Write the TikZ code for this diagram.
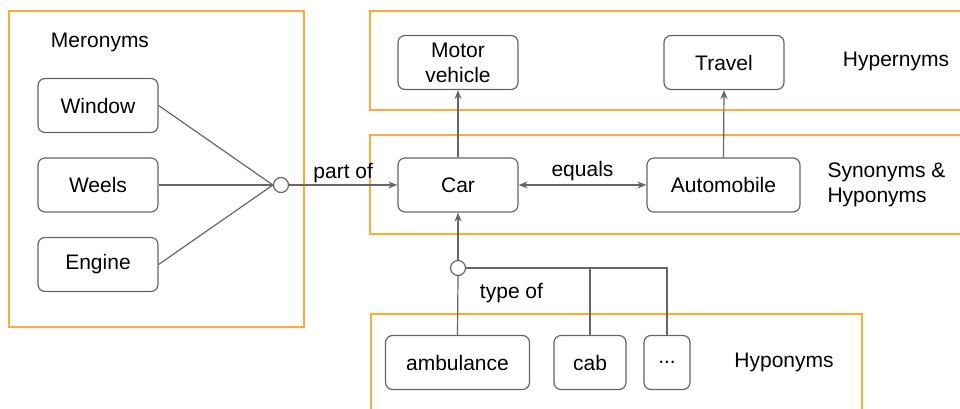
\documentclass[tikz,border=0pt]{standalone}
\usepackage{fontspec}
\setmainfont{Liberation Sans}
\usetikzlibrary{arrows.meta}
\definecolor{framecol}{RGB}{255,170,50}
\definecolor{linecol}{RGB}{102,102,102}
\begin{document}
\begin{tikzpicture}[x=1pt,y=-1pt,
  every node/.style={font=\fontsize{21}{25}\selectfont},
  term/.style={draw=linecol, line width=1.2pt, rounded corners=7pt, minimum height=54pt, inner sep=0pt, align=center},
  group/.style={draw=framecol, line width=1.4pt},
  junction/.style={circle, draw=linecol, fill=white, line width=1.2pt, minimum size=15pt, inner sep=0pt},
  link/.style={draw=linecol, line width=1.2pt},
  tip/.style={-{Stealth[length=9pt,width=7pt]}}]
\useasboundingbox (0,0) rectangle (960,409);
\path[clip] (0,0) rectangle (960,409);
% groups
\draw[group] (9,11) rectangle (304,327);
\draw[group] (370,11) rectangle (975,110);
\draw[group] (370,135) rectangle (975,234);
\draw[group] (371,314) rectangle (862,420);
\node (meronyms) at (100,42) {Meronyms};
\node (hypernyms) at (896,61) {Hypernyms};
\node[anchor=west, align=left] (synonyms) at (824,185) {Synonyms \&\\Hyponyms};
\node (hyponyms) at (784,362) {Hyponyms};
% terms
\node[term, minimum width=120pt] (window) at (98,105.5) {Window};
\node[term, minimum width=120pt] (weels) at (98,185) {Weels};
\node[term, minimum width=120pt] (engine) at (98,264.5) {Engine};
\node[term, minimum width=120pt] (motor) at (458,62.5) {Motor\\vehicle};
\node[term, minimum width=120pt] (travel) at (724,62.5) {Travel};
\node[term, minimum width=120pt] (car) at (458,185) {Car};
\node[term, minimum width=153pt] (auto) at (723.5,185) {Automobile};
\node[term, minimum width=144pt] (ambulance) at (457.5,362.5) {ambulance};
\node[term, minimum width=72pt] (cab) at (590,362.5) {cab};
\node[term, minimum width=46pt] (more) at (667,362.5) {...};
% junctions
\node[junction] (partj) at (281,185) {};
\node[junction] (typej) at (458,268) {};
\node (typeof) at (511.5,293) {type of};
% links
\draw[link] (window.east) -- (partj.west);
\draw[link] (weels.east) -- (partj.west);
\draw[link] (engine.east) -- (partj.west);
\draw[link, tip] (partj.east) -- node[above, inner sep=1.5pt] {part of} (car.west);
\draw[link, {Stealth[length=9pt,width=7pt]}-{Stealth[length=9pt,width=7pt]}] (car.east) -- node[above, inner sep=4pt] {equals} (auto.west);
\draw[link, tip] (car.north) -- (motor.south);
\draw[link, tip] (auto.north) -- (travel.south);
\draw[link, tip] (typej.north) -- (car.south);
\draw[link] (typej.south) -- (ambulance.north);
\draw[link] (typej.east) -| (more.north);
\draw[link] (cab.north) -- (cab.north |- typej.east);
\end{tikzpicture}
\end{document}
